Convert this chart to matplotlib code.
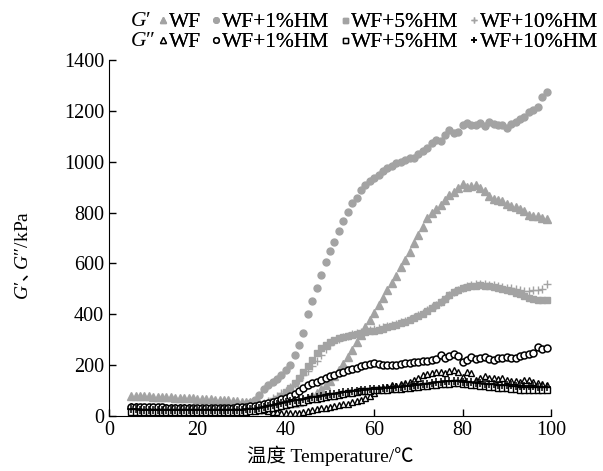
import numpy as np
import matplotlib
matplotlib.use("Agg")
import matplotlib.pyplot as plt
from matplotlib.lines import Line2D

plt.rcParams['font.family'] = ['Liberation Serif', 'Noto Sans CJK SC']
plt.rcParams['mathtext.fontset'] = 'custom'
plt.rcParams['mathtext.rm'] = 'Liberation Serif'
plt.rcParams['mathtext.it'] = 'Liberation Serif:italic'
plt.rcParams['mathtext.sf'] = 'Noto Sans CJK SC'
plt.rcParams['mathtext.fallback'] = 'stix'

temperature = np.arange(5, 100)

g1_wf = [80, 79, 79, 78, 77, 76, 76, 75, 74, 73,
         72, 71, 70, 70, 69, 68, 67, 66, 65, 64,
         63, 62, 61, 60, 58, 57, 56, 54, 52, 50,
         48, 47, 46, 46, 47, 48, 50, 53, 57, 62,
         70, 80, 92, 105, 120, 138, 158, 180, 205, 232,
         260, 290, 320, 350, 378, 405, 435, 465, 495, 525,
         552, 585, 615, 645, 680, 712, 745, 780, 800, 815,
         830, 850, 870, 882, 895, 912, 902, 905, 910, 895,
         885, 865, 855, 850, 845, 835, 825, 820, 815, 808,
         792, 785, 785, 780, 775]
g1_hm1 = [36, 36, 35, 35, 35, 34, 34, 34, 33, 33,
          33, 32, 32, 32, 31, 31, 31, 30, 30, 30,
          30, 31, 32, 33, 35, 38, 42, 50, 63, 83,
          105, 122, 135, 146, 161, 181, 201, 238, 280, 325,
          400, 452, 505, 555, 605, 648, 686, 728, 767, 803,
          837, 858, 889, 908, 924, 937, 946, 965, 975, 985,
          994, 1000, 1007, 1016, 1013, 1030, 1043, 1053, 1075, 1085,
          1083, 1105, 1125, 1114, 1118, 1144, 1153, 1144, 1144, 1153,
          1142, 1157, 1147, 1144, 1144, 1134, 1148, 1157, 1167, 1175,
          1197, 1203, 1214, 1256, 1275]
g1_hm5 = [22, 22, 21, 21, 21, 20, 20, 20, 20, 19,
          19, 19, 19, 19, 19, 19, 19, 20, 20, 20,
          20, 21, 21, 22, 22, 23, 24, 26, 28, 33,
          40, 48, 57, 68, 80, 95, 110, 128, 150, 172,
          197, 222, 246, 266, 281, 292, 300, 306, 311, 315,
          319, 322, 326, 329, 333, 336, 340, 344, 349, 354,
          359, 365, 371, 377, 385, 394, 403, 413, 424, 435,
          447, 462, 476, 487, 496, 503, 508, 511, 513, 514,
          513, 511, 508, 504, 500, 495, 490, 485, 478, 472,
          466, 461, 458, 456, 455]
g1_hm10 = [30, 30, 29, 29, 29, 28, 28, 28, 28, 27,
           27, 27, 27, 27, 26, 26, 26, 26, 27, 27,
           27, 28, 28, 29, 30, 31, 32, 33, 35, 42,
           50, 60, 70, 80, 90, 100, 113, 127, 142, 160,
           178, 196, 218, 240, 262, 280, 293, 302, 310, 316,
           321, 325, 329, 333, 337, 341, 345, 349, 353, 358,
           363, 368, 374, 380, 388, 397, 406, 416, 427, 438,
           450, 462, 475, 487, 497, 505, 511, 515, 518, 519,
           518, 516, 514, 512, 509, 505, 502, 498, 495, 493,
           491, 494, 497, 500, 520]
g2_wf = [38, 38, 37, 37, 37, 36, 36, 36, 35, 35,
         35, 34, 34, 34, 33, 33, 33, 32, 32, 32,
         31, 31, 30, 30, 29, 29, 28, 28, 27, 25,
         22, 19, 16, 14, 12, 11, 10, 11, 12, 15,
         18, 22, 26, 30, 33, 36, 40, 43, 46, 49,
         55, 58, 63, 70, 80, 92, 105, 110, 115, 120,
         118, 124, 128, 135, 142, 150, 160, 166, 168, 172,
         175, 170, 176, 180, 172, 155, 172, 168, 142, 150,
         156, 150, 148, 145, 150, 142, 138, 136, 135, 140,
         142, 135, 128, 125, 122]
g2_hm1 = [36, 36, 35, 35, 35, 34, 34, 34, 33, 33,
          33, 32, 32, 32, 32, 31, 31, 31, 31, 31,
          32, 32, 33, 33, 34, 35, 36, 38, 40, 43,
          46, 50, 55, 60, 66, 72, 78, 88, 100, 110,
          122, 130, 135, 142, 150, 157, 163, 168, 172, 180,
          185, 190, 196, 200, 204, 207, 205, 202, 200, 200,
          201, 204, 207, 210, 212, 214, 216, 218, 220, 225,
          240, 227, 235, 244, 236, 214, 222, 233, 225, 227,
          233, 226, 220, 227, 230, 233, 229, 227, 235, 240,
          243, 247, 273, 262, 266]
g2_hm5 = [17, 17, 16, 16, 16, 16, 15, 15, 15, 15,
          15, 15, 14, 14, 14, 14, 14, 14, 14, 15,
          15, 15, 15, 16, 16, 17, 17, 18, 20, 23,
          27, 30, 33, 37, 41, 45, 48, 51, 54, 57,
          61, 65, 68, 71, 74, 77, 80, 83, 86, 89,
          92, 95, 97, 99, 100, 101, 102, 103, 104, 105,
          106, 107, 109, 111, 113, 115, 117, 119, 121, 123,
          125, 126, 127, 128, 128, 126, 124, 122, 121, 119,
          117, 115, 113, 111, 110, 109, 108, 106, 104, 103,
          102, 102, 101, 102, 102]
g2_hm10 = [26, 26, 25, 25, 25, 25, 24, 24, 24, 24,
           24, 23, 23, 23, 23, 23, 23, 23, 23, 23,
           23, 24, 24, 24, 25, 25, 26, 27, 28, 32,
           36, 40, 44, 48, 52, 55, 58, 61, 64, 67,
           70, 73, 76, 79, 82, 85, 88, 90, 93, 95,
           97, 99, 101, 103, 105, 107, 108, 109, 110, 112,
           113, 115, 117, 119, 121, 123, 125, 127, 130, 132,
           134, 136, 137, 138, 137, 135, 133, 132, 130, 128,
           127, 126, 124, 123, 122, 121, 120, 119, 118, 118,
           117, 117, 116, 116, 115]

labels = ['WF', 'WF+1%HM', 'WF+5%HM', 'WF+10%HM']
x_ticks = [0, 20, 40, 60, 80, 100]
y_ticks = [0, 200, 400, 600, 800, 1000, 1200, 1400]

W, H = 603, 471
GRAY = '#a3a3a3'
fig = plt.figure(figsize=(W / 100, H / 100), dpi=100)
ax = fig.add_axes([109 / W, 1 - 416 / H, (551 - 109) / W, (416 - 60) / H])

styles_g1 = [dict(marker='^', ms=5.5, color=GRAY, mec=GRAY, ls='none'),
             dict(marker='o', ms=5, color=GRAY, mec=GRAY, ls='none'),
             dict(marker='s', ms=4.5, color=GRAY, mec=GRAY, ls='none'),
             dict(marker='+', ms=6, color=GRAY, mew=1.0, ls='none')]
styles_g2 = [dict(marker='^', ms=5, mfc='white', mec='black', mew=1.0, ls='none'),
             dict(marker='o', ms=5, mfc='white', mec='black', mew=1.1, ls='none'),
             dict(marker='s', ms=4.5, mfc='white', mec='black', mew=1.0, ls='none'),
             dict(marker='+', ms=6, color='black', mew=1.1, ls='none')]

for ys, st in zip([g1_wf, g1_hm1, g1_hm5, g1_hm10], styles_g1):
    ax.plot(temperature, ys, **st)
for ys, st in zip([g2_wf, g2_hm1, g2_hm5, g2_hm10], styles_g2):
    ax.plot(temperature, ys, **st)

ax.set_xlim(0, 100)
ax.set_ylim(0, 1400)
ax.set_xticks(x_ticks)
ax.set_yticks(y_ticks)
ax.spines['top'].set_visible(False)
ax.spines['right'].set_visible(False)
ax.tick_params(direction='in', length=5, labelsize=14.5, width=1)
ax.set_xlabel('温度 Temperature/℃', fontsize=14, labelpad=4)
ax.set_ylabel(r"$G$′$\mathsf{、}\!\!\!G$″/kPa", fontsize=14)
ax.yaxis.set_label_coords((32 - 109) / 442, (416 - 255) / 356)

# legend: one row for G', one row for G''
FS = 15.5
for row, (styles, y_c) in enumerate([(styles_g1, 22), (styles_g2, 42)]):
    mk = []
    for st in styles:
        s = dict(st)
        s['ms'] = s['ms'] * 0.8
        mk.append(Line2D([], [], **s))
    leg = fig.legend(mk, labels, ncol=4, loc='center left',
                     bbox_to_anchor=(159.5 / W, 1 - y_c / H), frameon=False,
                     fontsize=FS, handlelength=0.3, handletextpad=0.12,
                     columnspacing=0.58, borderpad=0, borderaxespad=0)
    fig.add_artist(leg)

fig.text(130 / W, 1 - 22 / H, r"$G$′", fontsize=FS, va='center', ha='left')
fig.text(130 / W, 1 - 42 / H, r"$G$″", fontsize=FS, va='center', ha='left')

fig.savefig('out.png', dpi=100)
